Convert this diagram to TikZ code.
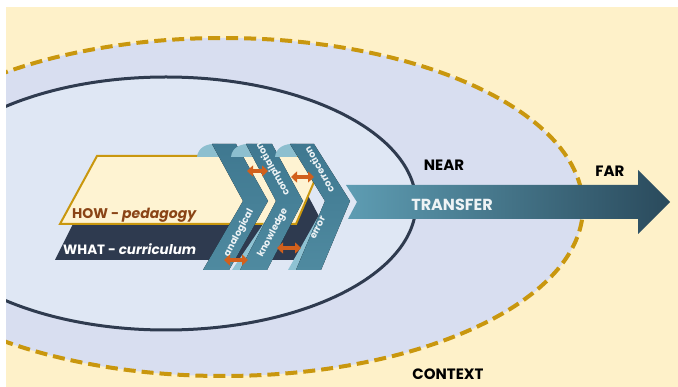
\documentclass[tikz,border=0pt]{standalone}
\usepackage{fontspec}
\setmainfont{Poppins}
\usetikzlibrary{arrows.meta}
\definecolor{creambg}{HTML}{FEF1C9}
\definecolor{ringc}{HTML}{D8DEF0}
\definecolor{innerc}{HTML}{DFE7F4}
\definecolor{goldc}{HTML}{C9970E}
\definecolor{navyc}{HTML}{2F3B4F}
\definecolor{howfill}{HTML}{FEF3D2}
\definecolor{howtext}{HTML}{8A4416}
\definecolor{whatfill}{HTML}{2E3A4F}
\definecolor{chevtop}{HTML}{3F7890}
\definecolor{chevmid}{HTML}{68A5BA}
\definecolor{chevbot}{HTML}{4F8AA0}
\definecolor{foldc}{HTML}{8DBFCF}
\definecolor{sidec}{HTML}{8EC2D3}
\definecolor{orangec}{HTML}{D2601C}
\definecolor{arrowl}{HTML}{5E9DB3}
\definecolor{arrowr}{HTML}{2A4A5C}
\definecolor{lighttext}{HTML}{EEF3F5}
\tikzset{
  dashline/.style={draw=goldc, line width=4pt, dash pattern=on 12pt off 6pt},
  solidline/.style={draw=navyc, line width=3pt},
  chevbody/.style={top color=chevtop, middle color=chevmid, bottom color=chevbot},
  foldpiece/.style={fill=foldc},
  sidepiece/.style={fill=sidec},
  orangearrow/.style={draw=orangec, line width=3.5pt,
    {Triangle[width=11pt,length=6pt]}-{Triangle[width=11pt,length=6pt]}},
  biglabel/.style={font=\fontsize{15}{15}\selectfont\bfseries, text=black, inner sep=0pt},
  chevlabel/.style={font=\fontsize{9.5}{9.5}\selectfont\bfseries, text=lighttext, inner sep=0pt},
}
\begin{document}
\begin{tikzpicture}[x=1pt,y=-1pt]
\useasboundingbox (0,0) rectangle (678,387);
\fill[white] (0,0) rectangle (678,387);
\fill[creambg] (6,7) rectangle (678,387);
% context ellipses
\begin{scope}
  \clip (6,7) rectangle (678,387);
  \fill[ringc] (223,207) ellipse [x radius=360pt, y radius=169pt];
  \fill[innerc] (166,203.5) ellipse [x radius=250pt, y radius=126.5pt];
  \draw[solidline] (166,203.5) ellipse [x radius=250pt, y radius=126.5pt];
  \draw[dashline] (223,207) ellipse [x radius=360pt, y radius=169pt];
\end{scope}
% WHAT and HOW
\fill[whatfill] (90,190) -- (305,190) -- (322,222) -- (305,260) -- (55,260) -- cycle;
\filldraw[fill=howfill, draw=goldc, line width=2pt, line join=miter]
  (97,156) -- (300,156) -- (314,182) -- (296,224) -- (60,224) -- cycle;
\node[anchor=base west, inner sep=0pt, text=howtext,
      font=\fontsize{14}{14}\selectfont\bfseries] (how) at (72,219) {HOW - \itshape pedagogy};
\node[anchor=base west, inner sep=0pt, text=white,
      font=\fontsize{13.5}{13.5}\selectfont\bfseries] (what) at (63,255) {WHAT - \itshape curriculum};
% transfer arrow
\path[left color=arrowl, right color=arrowr]
  (346,185) -- (638,185) -- (638,170) -- (670,202) -- (638,234) -- (638,219)
  -- (348,219) -- (357,202) -- cycle;
\node[font=\fontsize{16}{16}\selectfont\bfseries, text=lighttext, inner sep=0pt] (transfer) at (452,205) {TRANSFER};
% side strips
\fill[sidepiece] (274,208) -- (240,270) -- (232,270) -- cycle;
\fill[sidepiece] (323,208) -- (296,270) -- (288,270) -- cycle;
% chevron 1
\fill[foldpiece] (218,144) .. controls (206,143) and (198,148) .. (197,157) -- (219,157) -- cycle;
\fill[chevbody] (212,144) -- (236,144) -- (268,201) -- (229,270) -- (203,270) -- (243,201) -- cycle;
% chevron 2
\fill[foldpiece] (252,144) .. controls (240,143) and (232,148) .. (231,157) -- (253,157) -- cycle;
\fill[chevbody] (246,144) -- (272,144) -- (303,201) -- (267,270) -- (240,270) -- (276,201) -- cycle;
% chevron 3
\fill[foldpiece] (296,144) .. controls (284,143) and (276,148) .. (275,157) -- (297,157) -- cycle;
\fill[chevbody] (290,144) -- (314,144) -- (350,201) -- (321,270) -- (296,270) -- (325,201) -- cycle;
% chevron labels
\node[chevlabel, rotate=62] (analogical) at (239,233) {analogical};
\node[chevlabel, rotate=62] (knowledge) at (273,233) {knowledge};
\node[chevlabel, rotate=119] (compilation) at (273,169) {compilation};
\node[chevlabel, rotate=64] (errorlbl) at (318,228) {error};
\node[chevlabel, rotate=119] (correction) at (319,170) {correction};
% orange double arrows
\coordinate (o1a) at (247,171); \coordinate (o1b) at (268,171);
\coordinate (o2a) at (291,177); \coordinate (o2b) at (314,177);
\coordinate (o3a) at (277,248); \coordinate (o3b) at (301,248);
\coordinate (o4a) at (224,260); \coordinate (o4b) at (248,260);
\draw[orangearrow] (o1a) -- (o1b);
\draw[orangearrow] (o2a) -- (o2b);
\draw[orangearrow] (o3a) -- (o3b);
\draw[orangearrow] (o4a) -- (o4b);
% labels
\node[biglabel] (near) at (444,165) {NEAR};
\node[biglabel] (far) at (610,171) {FAR};
\node[biglabel] (context) at (448,374) {CONTEXT};
\end{tikzpicture}
\end{document}
